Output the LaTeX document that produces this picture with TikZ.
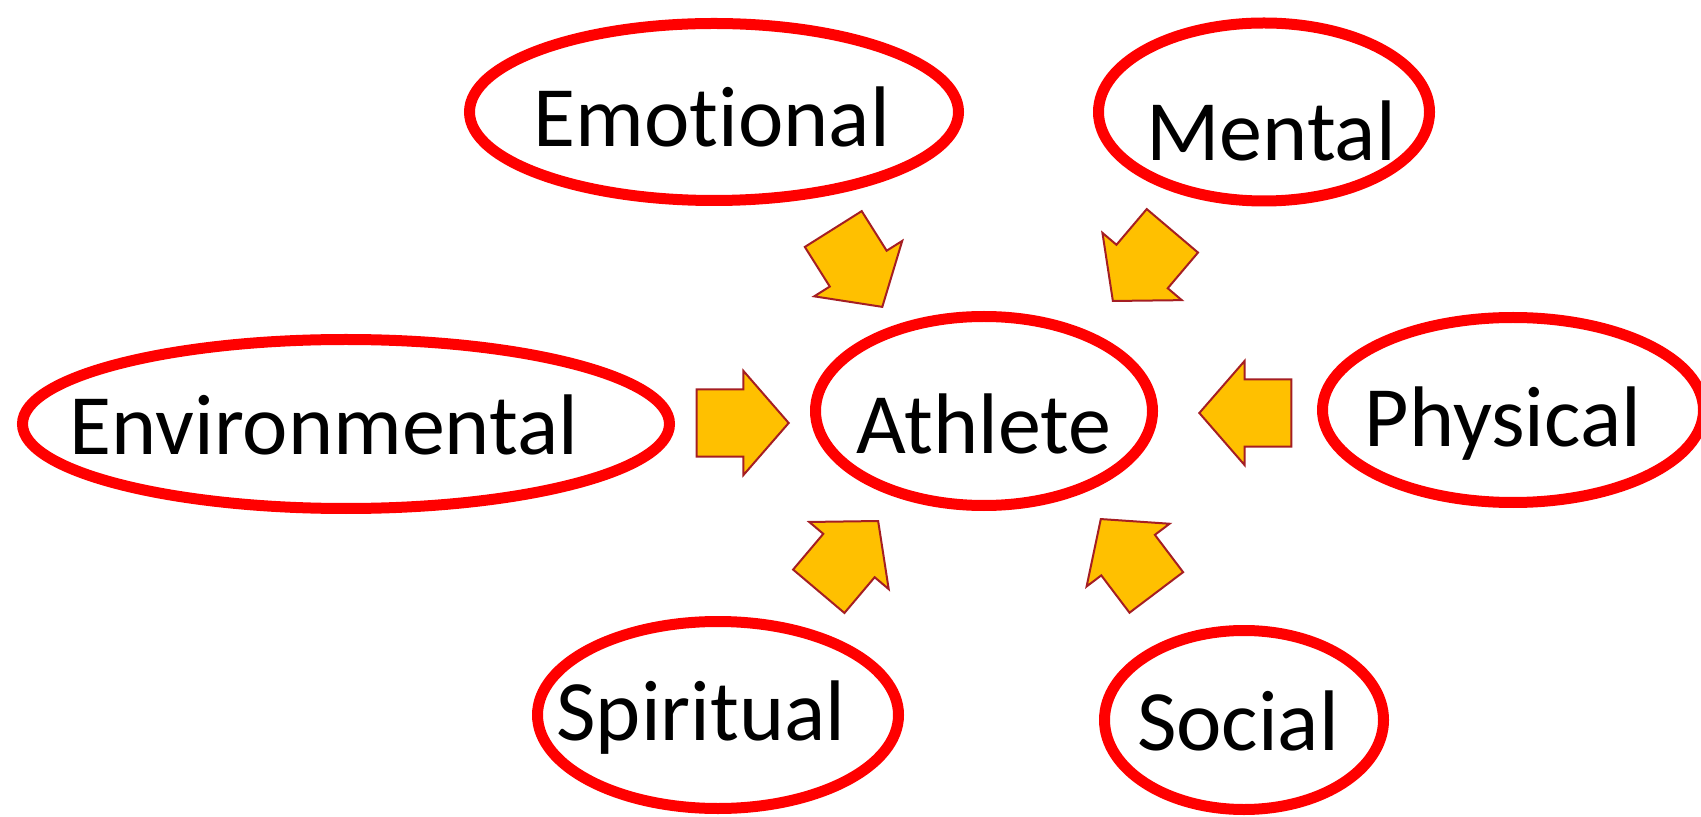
\documentclass[tikz,border=0pt]{standalone}
\usepackage{fontspec}
\setmainfont{Carlito}[Ligatures=NoCommon]
\usetikzlibrary{shapes.geometric,shapes.arrows}

\definecolor{ringred}{RGB}{255,0,0}
\definecolor{pushgold}{RGB}{255,192,0}
\definecolor{pushedge}{RGB}{165,30,35}

\begin{document}
\begin{tikzpicture}[x=0.5pt,y=-0.5pt]
  \tikzset{factor/.style={ellipse,draw=ringred,line width=5.5pt,inner xsep=-24pt,inner ysep=0pt,
      text depth=0pt,font=\fontsize{43}{50}\selectfont},
    push/.style={single arrow,draw=pushedge,fill=pushgold,line width=1pt,minimum height=46pt,
      minimum width=52pt,inner xsep=0pt,inner ysep=12.5pt,single arrow tip angle=98,anchor=tip}}
  \useasboundingbox (0,0) rectangle (1701,817);
  % the rings (kerns nudge the words off centre)
  \node[factor,minimum width=168.5pt,minimum height=94.5pt,text height=43pt] (ath) at (984,411) {Athlete};
  \node[factor,minimum width=244.5pt,minimum height=88.5pt,text height=35pt] (emo) at (714,112) {Emotional\kern2pt};
  \node[factor,minimum width=165.5pt,minimum height=89pt,text height=49pt]   (men) at (1264,112) {\kern7pt Mental};
  \node[factor,minimum width=323.5pt,minimum height=84.5pt,text height=31pt] (env) at (346,424) {Environmental\kern22pt};
  \node[factor,minimum width=190.5pt,minimum height=92.5pt,text height=37pt] (phy) at (1513,410) {Physical\kern10pt};
  \node[factor,minimum width=180.5pt,minimum height=93.5pt,text height=25pt] (spi) at (718,715) {Spiritual\kern17pt};
  \node[factor,minimum width=139.5pt,minimum height=89.5pt,text height=30pt] (soc) at (1244,720) {Social\kern6pt};
  % block arrows pointing in
  \node[push,rotate=-57.8]  (emo-ath) at (883,308) {};
  \node[push,rotate=-130.3] (men-ath) at (1112,302) {};
  \node[push]               (env-ath) at (790,423) {};
  \node[push,rotate=180]    (phy-ath) at (1198,413) {};
  \node[push,rotate=49.8]   (spi-ath) at (879,520) {};
  \node[push,rotate=127.1]  (soc-ath) at (1100,518) {};
\end{tikzpicture}
\end{document}
